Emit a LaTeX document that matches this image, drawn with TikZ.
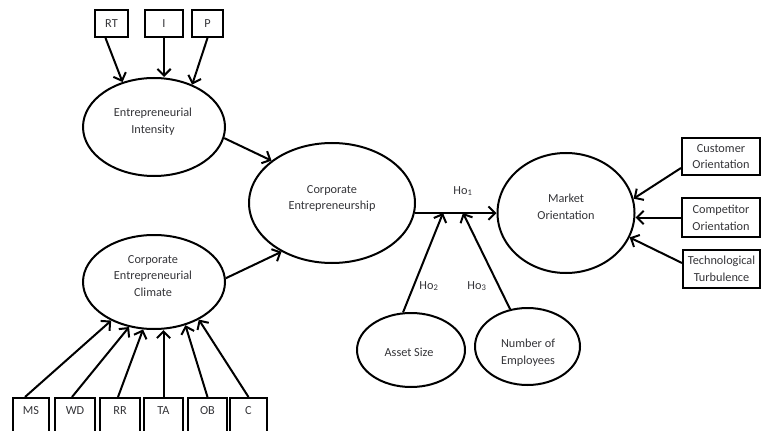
\documentclass[tikz,border=0pt]{standalone}
\usepackage{fontspec}
\setmainfont{Carlito}
\usetikzlibrary{shapes.geometric,arrows.meta}
\definecolor{labeltext}{RGB}{52,52,56}
\begin{document}
\begin{tikzpicture}[x=0.75pt,y=-0.75pt,
  oval/.style={draw=black, line width=1.5pt, ellipse, inner sep=0pt},
  itembox/.style={draw=black, line width=1.5pt, rectangle, inner sep=0pt, align=center,
    text=labeltext, font=\fontsize{9.2pt}{12.6pt}\selectfont},
  basebox/.style={draw=black, line width=1.5pt, rectangle, inner sep=0pt, anchor=north,
    text height=12.6pt, text depth=16.7pt, text=labeltext, font=\fontsize{9.2pt}{12.6pt}\selectfont},
  caption/.style={align=center, inner sep=0pt, text=labeltext, font=\fontsize{9.2pt}{12.6pt}\selectfont},
  link/.style={line width=1.5pt, -{Straight Barb[length=5pt,width=10pt]}},
]
\useasboundingbox (0,0) rectangle (763,431);
\clip (0,0) rectangle (763,431);

% constructs
\node[oval, minimum width=106.5pt, minimum height=73.5pt] (EI) at (154,127) {};
\node[caption] (EIt) at (153,121.5) {Entrepreneurial\\Intensity};
\node[oval, minimum width=106.5pt, minimum height=70.5pt] (CEC) at (154,282) {};
\node[caption] (CECt) at (153,276) {Corporate\\Entrepreneurial\\Climate};
\node[oval, minimum width=124.5pt, minimum height=90pt] (CE) at (332,203) {};
\node[caption] (CEt) at (332,198.5) {Corporate\\Entrepreneurship};
\node[oval, minimum width=102.75pt, minimum height=90pt] (MO) at (566,213) {};
\node[caption] (MOt) at (566,207) {Market\\Orientation};
\node[oval, minimum width=81pt, minimum height=55.5pt] (AS) at (411,350) {};
\node[caption] (ASt) at (409,352) {Asset Size};
\node[oval, minimum width=78.75pt, minimum height=57.75pt] (NE) at (527.5,346.5) {};
\node[caption] (NEt) at (528,353) {Number of\\Employees};

% indicators of entrepreneurial intensity
\node[itembox, minimum width=24.75pt, minimum height=20.25pt] (RT) at (111.5,23.5) {RT};
\node[itembox, minimum width=28.5pt, minimum height=20.25pt] (I) at (164,23.5) {I};
\node[itembox, minimum width=23.25pt, minimum height=20.25pt] (P) at (207.5,23.5) {P};

% indicators of the entrepreneurial climate
\node[basebox, minimum width=27pt] (MS) at (31,397) {MS};
\node[basebox, minimum width=30pt] (WD) at (75,397) {WD};
\node[basebox, minimum width=30pt] (RR) at (120,397) {RR};
\node[basebox, minimum width=29.25pt] (TA) at (163.5,397) {TA};
\node[basebox, minimum width=29.25pt] (OB) at (207.5,397) {OB};
\node[basebox, minimum width=27.75pt] (C) at (248.5,397) {C};

% components of market orientation
\node[itembox, minimum width=58.5pt, minimum height=27.75pt] (CU) at (721,156.5) {Customer\\Orientation};
\node[itembox, minimum width=58.5pt, minimum height=29.25pt] (CO) at (721,217.5) {Competitor\\Orientation};
\node[itembox, minimum width=57.75pt, minimum height=28.5pt] (TT) at (721.5,269) {Technological\\Turbulence};

% hypothesis labels
\node[caption] (ho1) at (463,191) {Ho\textsubscript{1}};
\node[caption] (ho2) at (429,286) {Ho\textsubscript{2}};
\node[caption] (ho3) at (477,286) {Ho\textsubscript{3}};

% moderator entry points on the main path
\coordinate (h2) at (443,213);
\coordinate (h3) at (463,213);

% connectors
\draw[link] ([xshift=-4.5pt]RT.south) -- (EI.125);
\draw[link] (I.south) -- (I.south |- EI.north);
\draw[link] (P.south) -- (EI.48);

\draw[link] (EI.-9) -- (CE.145);
\draw[link] (CEC.3) -- (CE.224);

\draw[link] ([xshift=-4.5pt]MS.north) -- (CEC.222);
\draw[link] ([xshift=-2.25pt]WD.north) -- (CEC.241);
\draw[link] ([xshift=-1.5pt]RR.north) -- (CEC.257);
\draw[link] (TA.north) -- (TA.north |- CEC.south);
\draw[link] (OB.north) -- (CEC.306);
\draw[link] (C.north) -- (CEC.320);

\draw[link] (CE.-7) -- (CE.-7 -| MO.west);
\draw[link] (AS.102) -- (h2);
\draw[link] (NE.115) -- (h3);

\draw[link] ([yshift=6pt]CU.south west) -- (MO.12);
\draw[link] (CO.west) -- (CO.west -| MO.east);
\draw[link] ([yshift=4.5pt]TT.west) -- (MO.-21);
\end{tikzpicture}
\end{document}
